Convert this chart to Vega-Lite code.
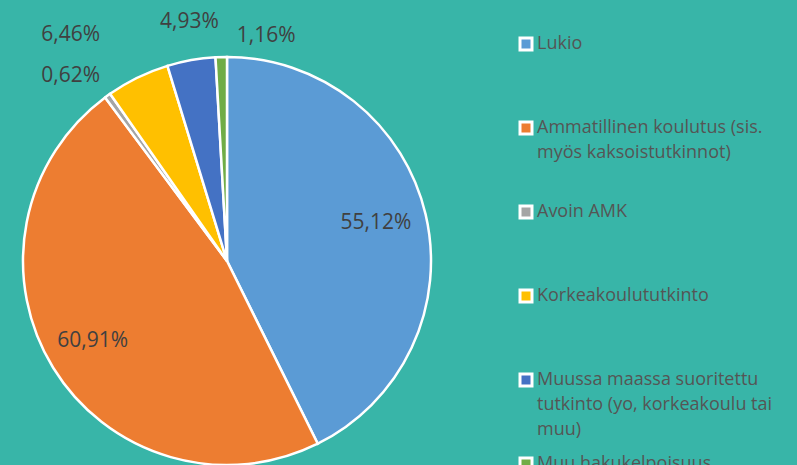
{
  "$schema": "https://vega.github.io/schema/vega-lite/v6.json",
  "width": 408,
  "height": 408,
  "autosize": {"type": "none"},
  "padding": {"left": 23, "top": 57, "right": 366, "bottom": 0},
  "background": "#38B5A8",
  "config": {"view": {"stroke": null}, "font": "Open Sans"},
  "data": {
    "values": [
      {"cat": "Lukio", "value": 55.12, "label": "55,12%", "o": 1},
      {"cat": "Ammatillinen koulutus (sis. myös kaksoistutkinnot)", "value": 60.91, "label": "60,91%", "o": 2},
      {"cat": "Avoin AMK", "value": 0.62, "label": "0,62%", "o": 3},
      {"cat": "Korkeakoulututkinto", "value": 6.46, "label": "6,46%", "o": 4},
      {"cat": "Muussa maassa suoritettu tutkinto (yo, korkeakoulu tai muu)", "value": 4.93, "label": "4,93%", "o": 5},
      {"cat": "Muu hakukelpoisuus", "value": 1.16, "label": "1,16%", "o": 6}
    ]
  },
  "encoding": {
    "theta": {"field": "value", "type": "quantitative", "stack": true},
    "order": {"field": "o", "type": "quantitative"}
  },
  "layer": [
    {
      "mark": {"type": "arc", "stroke": "white", "strokeWidth": 2.5},
      "encoding": {
        "color": {
          "field": "cat",
          "type": "nominal",
          "sort": null,
          "scale": {
            "domain": ["Lukio", "Ammatillinen koulutus (sis. myös kaksoistutkinnot)", "Avoin AMK", "Korkeakoulututkinto", "Muussa maassa suoritettu tutkinto (yo, korkeakoulu tai muu)", "Muu hakukelpoisuus"],
            "range": ["#5B9BD5", "#ED7D31", "#A5A5A5", "#FFC000", "#4472C4", "#70AD47"]
          },
          "legend": {
            "orient": "none",
            "legendX": 494,
            "legendY": -25,
            "title": null,
            "symbolType": "square",
            "symbolSize": 144,
            "symbolStrokeColor": "white",
            "symbolStrokeWidth": 3,
            "symbolOpacity": 1,
            "labelFontSize": 18,
            "labelColor": "#555555",
            "labelFont": "Open Sans",
            "labelOffset": 2,
            "labelLimit": 300,
            "clipHeight": 83.4,
            "rowPadding": 0,
            "padding": 0,
            "labelExpr": "datum.value == 'Ammatillinen koulutus (sis. myös kaksoistutkinnot)' ? ['Ammatillinen koulutus (sis.', 'myös kaksoistutkinnot)'] : datum.value == 'Muussa maassa suoritettu tutkinto (yo, korkeakoulu tai muu)' ? ['Muussa maassa suoritettu', 'tutkinto (yo, korkeakoulu tai', 'muu)'] : datum.label",
            "encode": {
              "symbols": {"update": {"y": {"value": 12}}},
              "labels": {"update": {"y": {"value": 12}, "lineHeight": {"value": 25}}}
            }
          }
        }
      }
    },
    {
      "mark": {
        "type": "text",
        "fontSize": 21,
        "font": "Open Sans",
        "color": "#404040",
        "radius": {"expr": "datum.value > 20 ? 153 : 243"},
        "dx": {"expr": "datum.o == 3 ? -14 : datum.o == 4 ? -50 : datum.o == 5 ? 5 : datum.o == 6 ? 46 : datum.o == 2 ? -4 : 0"},
        "dy": {"expr": "datum.o == 3 ? 12 : datum.o == 4 ? -8 : datum.o == 5 ? 0 : datum.o == 6 ? 18 : datum.o == 1 ? -3 : 0"}
      },
      "encoding": {"text": {"field": "label"}}
    }
  ]
}
